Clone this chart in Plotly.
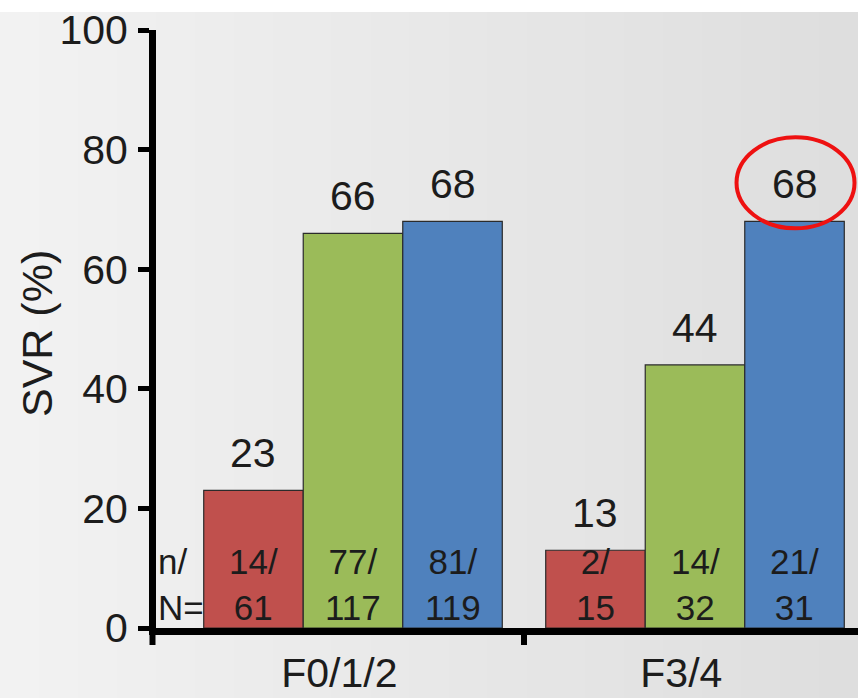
import plotly.graph_objects as go

# ---- data -------------------------------------------------------------
categories = ["F0/1/2", "F3/4"]
series_names = ["Group A", "Group B", "Group C"]
series_colors = ["#c0504d", "#9bbb59", "#4f81bd"]

svr_a = [23, 13]
svr_b = [66, 44]
svr_c = [68, 68]

responders_a = [14, 2]
totals_a = [61, 15]
responders_b = [77, 14]
totals_b = [117, 32]
responders_c = [81, 21]
totals_c = [119, 31]

y_tick_values = [0, 20, 40, 60, 80, 100]
y_tick_labels = ["0", "20", "40", "60", "80", "100"]

# ---- layout geometry ----------------------------------------------------
W, H = 858, 698
M_L, M_R, M_T, M_B = 156, 0, 30, 70
PLOT_W = W - M_L - M_R
PLOT_H = H - M_T - M_B
UNIT_PX = 342            # pixels per category slot
FIRST_CENTER_PX = 353    # pixel position of first category centre
BAR_W = 0.291            # bar width in category units
X_MIN = -(FIRST_CENTER_PX - M_L) / UNIT_PX
X_MAX = X_MIN + PLOT_W / UNIT_PX

FONT = "Liberation Sans, Arial, sans-serif"
TXT = "#1c1c1c"
BIG = 41
SMALL = 35

values = [svr_a, svr_b, svr_c]
resp = [responders_a, responders_b, responders_c]
tots = [totals_a, totals_b, totals_c]
offsets = [-BAR_W, 0.0, BAR_W]

fig = go.Figure()
annotations = []

for s, name in enumerate(series_names):
    xs = [i + offsets[s] for i in range(len(categories))]
    fig.add_trace(go.Bar(
        x=xs, y=values[s], width=BAR_W, name=name,
        marker=dict(color=series_colors[s], line=dict(color="#2b2b2b", width=1.2)),
        showlegend=False, hoverinfo="skip",
    ))
    for i, x in enumerate(xs):
        # percentage label above the bar
        annotations.append(dict(
            x=x, y=values[s][i], xref="x", yref="y", text=str(values[s][i]),
            showarrow=False, yanchor="bottom", yshift=12,
            font=dict(family=FONT, size=BIG, color=TXT),
        ))
        # n/N inside the bar
        annotations.append(dict(
            x=x, y=0, xref="x", yref="y",
            text=f"{resp[s][i]}/<br>{tots[s][i]}",
            showarrow=False, yanchor="bottom", yshift=-1,
            font=dict(family=FONT, size=SMALL, color=TXT),
        ))

# row caption at the left of the bars
annotations.append(dict(
    x=0, y=0, xref="paper", yref="y", text="n/<br>N=", align="left",
    showarrow=False, xanchor="left", yanchor="bottom", xshift=0, yshift=-1,
    font=dict(family=FONT, size=SMALL, color=TXT),
))

# y-axis title
annotations.append(dict(
    x=(37 - M_L) / PLOT_W, y=(M_T + PLOT_H - 334) / PLOT_H,
    xref="paper", yref="paper", text="SVR (%)", textangle=-90,
    showarrow=False, xanchor="center", yanchor="middle",
    font=dict(family=FONT, size=43, color=TXT),
))

shapes = []

# soft grey backdrop, lighter on the left
n_strips = 44
strip_px = W / n_strips
c_left, c_right = 242, 222
for k in range(n_strips):
    t = k / (n_strips - 1)
    g = round(c_left + (c_right - c_left) * t)
    x0 = (k * strip_px - M_L) / PLOT_W
    x1 = ((k + 1) * strip_px + 1 - M_L) / PLOT_W
    shapes.append(dict(
        type="rect", xref="paper", yref="paper", layer="below",
        x0=x0, x1=x1, y0=-(M_B) / PLOT_H, y1=(PLOT_H + M_T - 12) / PLOT_H,
        fillcolor=f"rgb({g},{g},{g})", line=dict(width=0),
    ))

# axis extensions / category divider below the x axis
tick_drop = 17 / PLOT_H
for xp in [-3.5 / PLOT_W, (0.5 - X_MIN) / (X_MAX - X_MIN)]:
    shapes.append(dict(
        type="line", xref="paper", yref="paper",
        x0=xp, x1=xp, y0=0, y1=-tick_drop,
        line=dict(color="black", width=6),
    ))

# highlight ring around the F3/4 Group C label
shapes.append(dict(
    type="circle", xref="x", yref="y",
    xsizemode="pixel", ysizemode="pixel",
    xanchor=1 + offsets[2], yanchor=svr_c[1],
    x0=-58, x1=60, y0=-7, y1=84,
    line=dict(color="#ee1111", width=4),
    layer="above",
))

fig.update_layout(
    width=W, height=H,
    margin=dict(l=M_L, r=M_R, t=M_T, b=M_B, pad=0, autoexpand=False),
    paper_bgcolor="white",
    plot_bgcolor="rgba(0,0,0,0)",
    barmode="overlay",
    annotations=annotations,
    shapes=shapes,
    xaxis=dict(
        range=[X_MIN, X_MAX],
        tickmode="array",
        tickvals=[i - 0.04 for i in range(len(categories))],
        ticktext=categories,
        ticks="",
        showgrid=False, zeroline=False,
        showline=True, linecolor="black", linewidth=7,
        tickfont=dict(family=FONT, size=BIG, color=TXT),
        ticklabelstandoff=3,
        automargin=False,
        fixedrange=True,
    ),
    yaxis=dict(
        range=[0, 100],
        tickmode="array",
        tickvals=y_tick_values,
        ticktext=y_tick_labels,
        ticks="outside", ticklen=11, tickwidth=5, tickcolor="black",
        showgrid=False, zeroline=False,
        showline=True, linecolor="black", linewidth=7,
        tickfont=dict(family=FONT, size=BIG, color=TXT),
        ticklabelstandoff=2,
        automargin=False,
        fixedrange=True,
    ),
)

fig.write_html("out.html")
